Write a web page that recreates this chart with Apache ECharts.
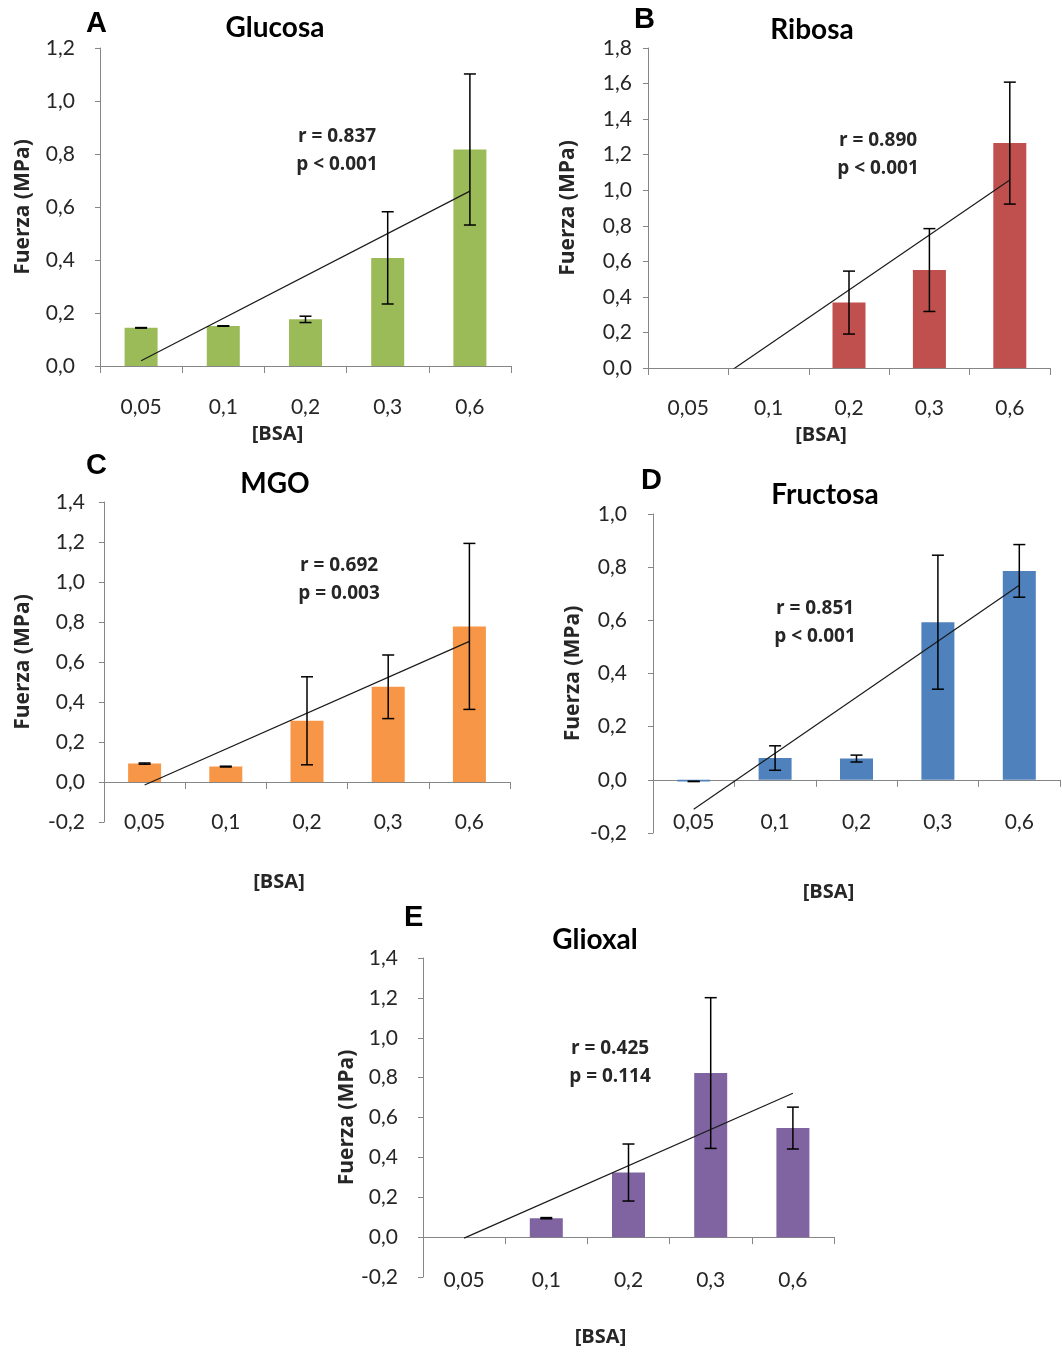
<!DOCTYPE html>
<html>
<head>
<meta charset="utf-8">
<script src="https://cdn.jsdelivr.net/npm/echarts@6/dist/echarts.min.js"></script>
<style>
  html, body { margin: 0; padding: 0; background: #fff; }
  #chart { width: 1062px; height: 1352px; }
</style>
</head>
<body>
<div id="chart"></div>
<script>
// categories on every panel
const categories = ['0,05', '0,1', '0,2', '0,3', '0,6'];

// A - Glucosa
const glucosaValues = [0.144, 0.151, 0.176, 0.408, 0.817];
const glucosaErrors = [0.001, 0.001, 0.012, 0.174, 0.285];
const glucosaTrend = [0.02, 0.66];

// B - Ribosa
const ribosaValues = [0, 0, 0.368, 0.551, 1.265];
const ribosaErrors = [null, null, 0.177, 0.233, 0.343];
const ribosaTrend = [-0.18, 1.058];

// C - MGO
const mgoValues = [0.092, 0.077, 0.306, 0.476, 0.778];
const mgoErrors = [0.003, 0.002, 0.22, 0.159, 0.415];
const mgoTrend = [-0.015, 0.703];

// D - Fructosa
const fructosaValues = [-0.006, 0.082, 0.08, 0.593, 0.786];
const fructosaErrors = [0, 0.046, 0.013, 0.252, 0.099];
const fructosaTrend = [-0.111, 0.732];

// E - Glioxal
const glioxalValues = [0, 0.095, 0.324, 0.823, 0.547];
const glioxalErrors = [null, 0.003, 0.143, 0.378, 0.105];
const glioxalTrend = [-0.005, 0.722];

const stats = {
  A: ['r = 0.837', 'p < 0.001'],
  B: ['r = 0.890', 'p < 0.001'],
  C: ['r = 0.692', 'p = 0.003'],
  D: ['r = 0.851', 'p < 0.001'],
  E: ['r = 0.425', 'p = 0.114']
};

const panels = [
  { letter: 'A', title: 'Glucosa', values: glucosaValues, errors: glucosaErrors, trend: glucosaTrend,
    color: '#9BBB59', min: 0, max: 1.2,
    grid: { left: 100, top: 48, width: 411, height: 318 },
    labelMargin: 31, yLabelMargin: 25, nameGap: 58, yNameGap: 66,
    letterPos: [100, 24], titlePos: [275, 28], statPos: [337, 136] },
  { letter: 'B', title: 'Ribosa', values: ribosaValues, errors: ribosaErrors, trend: ribosaTrend,
    color: '#C0504D', min: 0, max: 1.8,
    grid: { left: 648, top: 48, width: 402, height: 320 },
    labelMargin: 30, yLabelMargin: 16, nameGap: 57, yNameGap: 69,
    letterPos: [648, 20], titlePos: [812, 30], statPos: [878, 140] },
  { letter: 'C', title: 'MGO', values: mgoValues, errors: mgoErrors, trend: mgoTrend,
    color: '#F79646', min: -0.2, max: 1.4,
    grid: { left: 104, top: 502, width: 406, height: 320 },
    labelMargin: -10, yLabelMargin: 19, nameGap: 50, yNameGap: 70,
    letterPos: [100, 466], titlePos: [275, 484], statPos: [339, 565] },
  { letter: 'D', title: 'Fructosa', values: fructosaValues, errors: fructosaErrors, trend: fructosaTrend,
    color: '#4F81BD', min: -0.2, max: 1.0,
    grid: { left: 653, top: 514, width: 407, height: 319 },
    labelMargin: -21, yLabelMargin: 26, nameGap: 49, yNameGap: 69,
    letterPos: [655, 481], titlePos: [825, 495], statPos: [815, 608] },
  { letter: 'E', title: 'Glioxal', values: glioxalValues, errors: glioxalErrors, trend: glioxalTrend,
    color: '#8064A2', min: -0.2, max: 1.4,
    grid: { left: 423, top: 958, width: 411, height: 319 },
    labelMargin: -7, yLabelMargin: 25, nameGap: 50, yNameGap: 63,
    letterPos: [418, 918], titlePos: [595, 940], statPos: [610, 1048] }
];

const axisColor = '#868686';
const textColor = '#262626';
const font = 'Lato, "Open Sans", sans-serif';
const boldFont = '"Open Sans", Lato, sans-serif';

function errorBarItem(params, api) {
  const x = api.value(0);
  const hi = api.coord([x, api.value(2)]);
  const lo = api.coord([x, api.value(1)]);
  const half = 6;
  const style = { stroke: '#000', lineWidth: 1.5 };
  return {
    type: 'group',
    children: [
      { type: 'line', shape: { x1: hi[0], y1: hi[1], x2: lo[0], y2: lo[1] }, style },
      { type: 'line', shape: { x1: hi[0] - half, y1: hi[1], x2: hi[0] + half, y2: hi[1] }, style },
      { type: 'line', shape: { x1: lo[0] - half, y1: lo[1], x2: lo[0] + half, y2: lo[1] }, style }
    ]
  };
}

const grids = [], xAxes = [], yAxes = [], series = [], graphics = [];

panels.forEach((p, i) => {
  grids.push(Object.assign({ containLabel: false }, p.grid));

  // axis line with ticks (sits on zero)
  xAxes.push({
    gridIndex: i, type: 'category', data: categories,
    axisLine: { onZero: true, lineStyle: { color: axisColor, width: 1 } },
    axisTick: { show: true, length: 7, lineStyle: { color: axisColor } },
    axisLabel: { show: false },
    splitLine: { show: false }
  });
  // labels at the bottom of the plot
  xAxes.push({
    gridIndex: i, type: 'category', data: categories, position: 'bottom',
    axisLine: { show: false, onZero: false },
    axisTick: { show: false },
    axisLabel: { margin: p.labelMargin, fontSize: 21, color: textColor, fontFamily: font },
    name: '[BSA]', nameLocation: 'middle', nameGap: p.nameGap,
    nameTextStyle: { fontSize: 20, fontWeight: 'bold', color: textColor, fontFamily: boldFont,
      padding: [0, 56, 0, 0] }
  });
  // hidden numeric axis for the trend line
  xAxes.push({ gridIndex: i, type: 'value', min: -0.5, max: 4.5, show: false });

  yAxes.push({
    gridIndex: i, type: 'value', min: p.min, max: p.max, interval: 0.2,
    splitLine: { show: false },
    axisLine: { show: true, onZero: false, lineStyle: { color: axisColor, width: 1 } },
    axisTick: { show: true, length: 5, lineStyle: { color: axisColor } },
    axisLabel: {
      margin: p.yLabelMargin, fontSize: 21, color: textColor, fontFamily: font,
      formatter: v => v.toFixed(1).replace('.', ',')
    },
    name: 'Fuerza (MPa)', nameLocation: 'middle', nameGap: p.yNameGap, nameRotate: 90,
    nameTextStyle: { fontSize: 21, fontWeight: 'bold', color: textColor, fontFamily: boldFont }
  });

  series.push({
    type: 'bar', xAxisIndex: 3 * i, yAxisIndex: i,
    data: p.values, barWidth: 33,
    itemStyle: { color: p.color },
    z: 2
  });

  series.push({
    type: 'line', xAxisIndex: 3 * i + 2, yAxisIndex: i,
    data: [[0, p.trend[0]], [4, p.trend[1]]],
    symbol: 'none', clip: true,
    lineStyle: { color: '#1a1a1a', width: 1.2 },
    z: 3
  });

  const errData = [];
  p.values.forEach((v, k) => {
    if (p.errors[k] == null) return;
    errData.push([k, v - p.errors[k], v + p.errors[k]]);
  });
  series.push({
    type: 'custom', xAxisIndex: 3 * i, yAxisIndex: i,
    renderItem: errorBarItem,
    encode: { x: 0, y: [1, 2] },
    data: errData,
    z: 4
  });

  graphics.push({
    type: 'text', left: p.letterPos[0] - 14, top: p.letterPos[1] - 15,
    style: { text: p.letter, font: 'bold 29px "Liberation Sans", Arial, sans-serif', fill: '#000' }
  });
  graphics.push({
    type: 'text', x: p.titlePos[0], y: p.titlePos[1],
    style: { text: p.title, font: 'bold 28px ' + font, fill: '#000', align: 'center', verticalAlign: 'middle' }
  });
  graphics.push({
    type: 'text', x: p.statPos[0], y: p.statPos[1] - 13,
    style: {
      text: stats[p.letter].join('\n'), font: 'bold 19px ' + boldFont, fill: textColor,
      align: 'center', verticalAlign: 'top', lineHeight: 28
    }
  });
});

const chart = echarts.init(document.getElementById('chart'), null, { renderer: 'canvas' });
chart.setOption({
  backgroundColor: '#fff',
  animation: false,
  grid: grids,
  xAxis: xAxes,
  yAxis: yAxes,
  series,
  graphic: graphics
});
</script>
</body>
</html>
